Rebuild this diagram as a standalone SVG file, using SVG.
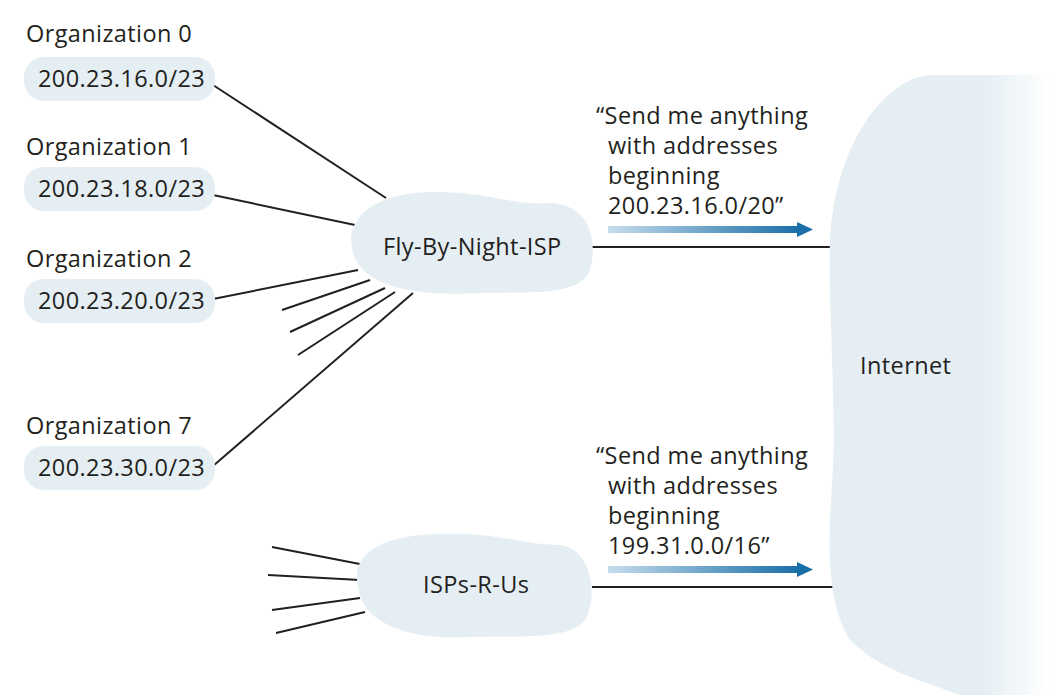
<svg xmlns="http://www.w3.org/2000/svg" width="1052" height="699" viewBox="0 0 1052 699">
<style>
text{font-family:"Open Sans","Noto Sans",sans-serif;font-size:23.5px;letter-spacing:0.4px;fill:#231f20}
.c{fill:#e5eef3}
.l{stroke:#231f20;stroke-width:2;fill:none}
</style>
<defs>
<linearGradient id="ar" x1="0" x2="1"><stop offset="0" stop-color="#c5dcec"/><stop offset="1" stop-color="#1a6fa8"/></linearGradient>
<linearGradient id="ig" x1="0" x2="1"><stop offset="0" stop-color="#e5eef3"/><stop offset="0.7" stop-color="#e5eef3"/><stop offset="1" stop-color="#ffffff"/></linearGradient>
</defs>
<rect width="1052" height="699" fill="#fff"/>
<g id="connectors">
<line class="l" x1="213" y1="85" x2="386" y2="198"/>
<line class="l" x1="213" y1="195" x2="355" y2="225"/>
<line class="l" x1="213" y1="299" x2="358" y2="270"/>
<line class="l" x1="282" y1="310" x2="370" y2="280"/>
<line class="l" x1="290" y1="332" x2="385" y2="288"/>
<line class="l" x1="298" y1="355" x2="395" y2="292"/>
<line class="l" x1="213" y1="466" x2="413" y2="293"/>
<line class="l" x1="592" y1="247" x2="832" y2="247"/>
<line class="l" x1="272" y1="547" x2="365" y2="565"/>
<line class="l" x1="268" y1="575" x2="360" y2="580"/>
<line class="l" x1="272" y1="610" x2="360" y2="598"/>
<line class="l" x1="276" y1="633" x2="365" y2="612"/>
<line class="l" x1="592" y1="587" x2="835" y2="587"/>
<rect x="608" y="226" width="190" height="7" fill="url(#ar)"/>
<polygon points="797,222 813,229.5 797,237" fill="#1a6fa8"/>
<rect x="608" y="566" width="190" height="7" fill="url(#ar)"/>
<polygon points="797,562 813,569.5 797,577" fill="#1a6fa8"/>
</g>
<g id="org0"><text x="26" y="42">Organization 0</text><rect class="c" x="24" y="57" width="191" height="44" rx="20"/><text x="38" y="87">200.23.16.0/23</text></g>
<g id="org1"><text x="26" y="155">Organization 1</text><rect class="c" x="24" y="167" width="191" height="44" rx="20"/><text x="38" y="197">200.23.18.0/23</text></g>
<g id="org2"><text x="26" y="267">Organization 2</text><rect class="c" x="24" y="279" width="191" height="44" rx="20"/><text x="38" y="309">200.23.20.0/23</text></g>
<g id="org7"><text x="26" y="434">Organization 7</text><rect class="c" x="24" y="446" width="191" height="44" rx="20"/><text x="38" y="476">200.23.30.0/23</text></g>
<g id="fbn"><path class="c" d="M352,248 C345,215 380,190 440,192 C490,193 510,205 550,203 C590,205 598,240 590,270 C580,295 540,292 480,293 C420,296 360,290 352,248 Z"/><text x="383" y="255">Fly-By-Night-ISP</text></g>
<g id="isp"><path class="c" d="M358,586 C350,555 380,535 440,534 C500,532 520,545 560,545 C595,550 597,600 585,620 C570,640 520,636 470,637 C410,640 362,625 358,586 Z"/><text x="423" y="593">ISPs-R-Us</text></g>
<g id="internet"><path fill="url(#ig)" d="M930,75 C880,80 835,150 830,240 C828,300 836,400 833,470 C828,540 825,600 850,640 C880,670 920,680 960,695 L1050,695 L1050,75 Z"/><text x="860" y="374">Internet</text></g>
<g id="msg1"><text x="596" y="124">“Send me anything</text><text x="608" y="154">with addresses</text><text x="608" y="184">beginning</text><text x="608" y="214">200.23.16.0/20”</text></g>
<g id="msg2"><text x="596" y="464">“Send me anything</text><text x="608" y="494">with addresses</text><text x="608" y="524">beginning</text><text x="608" y="554">199.31.0.0/16”</text></g>
</svg>
